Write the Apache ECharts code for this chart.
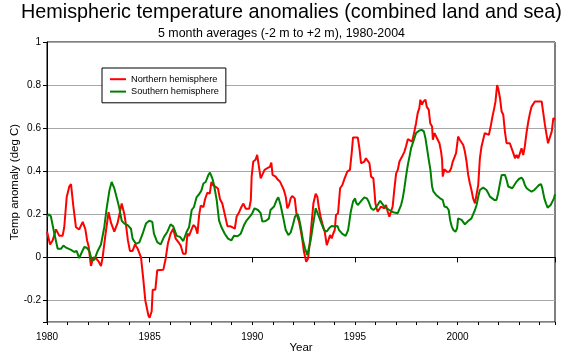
<!DOCTYPE html>
<html>
<head>
<meta charset="utf-8">
<script src="https://cdn.jsdelivr.net/npm/echarts@6/dist/echarts.min.js"></script>
<style>html,body{margin:0;padding:0;background:#fff}#c{width:575px;height:359px}</style>
</head>
<body>
<div id="c"></div>
<script>
const titleText = 'Hemispheric temperature anomalies (combined land and sea)';
const subtitleText = '5 month averages (-2 m to +2 m), 1980-2004';
const seriesNames = ['Northern hemisphere', 'Southern hemisphere'];

const northern = [
[1980.00,0.12],[1980.15,0.06],[1980.28,0.08],[1980.44,0.13],[1980.60,0.10],[1980.76,0.10],[1980.84,0.14],[1980.96,0.28],
[1981.09,0.33],[1981.17,0.34],[1981.28,0.24],[1981.41,0.14],[1981.57,0.13],[1981.74,0.165],[1981.87,0.13],[1981.95,0.08],
[1982.03,0.05],[1982.14,-0.04],[1982.26,0.00],[1982.39,-0.005],[1982.52,-0.02],[1982.63,-0.04],[1982.71,0.00],[1982.84,0.10],
[1983.00,0.21],[1983.12,0.16],[1983.28,0.12],[1983.44,0.16],[1983.64,0.25],[1983.77,0.20],[1983.85,0.15],[1983.94,0.08],
[1984.04,0.03],[1984.17,0.03],[1984.29,0.06],[1984.42,0.04],[1984.58,0.00],[1984.69,-0.10],[1984.79,-0.20],[1984.94,-0.27],
[1985.00,-0.28],[1985.10,-0.25],[1985.15,-0.15],[1985.28,-0.15],[1985.37,-0.06],[1985.67,-0.057],[1985.78,-0.006],[1985.89,0.064],
[1986.02,0.11],[1986.15,0.133],[1986.27,0.087],[1986.43,0.067],[1986.51,0.056],[1986.63,0.017],[1986.76,0.017],[1986.84,0.11],
[1986.92,0.10],[1987.00,0.12],[1987.13,0.15],[1987.24,0.14],[1987.33,0.11],[1987.41,0.195],[1987.49,0.24],[1987.62,0.234],
[1987.70,0.27],[1987.81,0.30],[1987.93,0.296],[1988.01,0.35],[1988.09,0.335],[1988.22,0.327],[1988.33,0.32],[1988.43,0.27],
[1988.54,0.25],[1988.66,0.20],[1988.79,0.145],[1988.92,0.145],[1989.03,0.14],[1989.15,0.133],[1989.24,0.19],[1989.36,0.21],
[1989.47,0.234],[1989.57,0.25],[1989.68,0.226],[1989.85,0.226],[1989.93,0.265],[1989.97,0.375],[1990.05,0.445],[1990.16,0.453],
[1990.24,0.476],[1990.33,0.468],[1990.41,0.367],[1990.49,0.383],[1990.60,0.406],[1990.73,0.414],[1990.86,0.42],[1990.93,0.44],
[1990.99,0.383],[1991.14,0.375],[1991.25,0.36],[1991.35,0.352],[1991.46,0.33],[1991.54,0.313],[1991.63,0.282],[1991.71,0.228],
[1991.79,0.243],[1991.87,0.274],[1991.95,0.285],[1992.07,0.274],[1992.15,0.205],[1992.28,0.166],[1992.36,0.127],[1992.44,0.081],
[1992.52,0.026],[1992.63,-0.02],[1992.72,-0.005],[1992.80,0.065],[1992.89,0.158],[1992.98,0.251],[1993.09,0.295],[1993.17,0.282],
[1993.25,0.228],[1993.33,0.189],[1993.41,0.158],[1993.53,0.12],[1993.63,0.057],[1993.69,0.073],[1993.79,0.104],[1993.87,0.088],
[1993.95,0.112],[1994.02,0.127],[1994.08,0.197],[1994.18,0.205],[1994.28,0.321],[1994.39,0.336],[1994.50,0.367],[1994.63,0.398],
[1994.76,0.406],[1994.85,0.49],[1994.91,0.557],[1995.14,0.557],[1995.19,0.553],[1995.22,0.507],[1995.30,0.437],[1995.38,0.433],
[1995.46,0.445],[1995.54,0.46],[1995.62,0.453],[1995.71,0.437],[1995.79,0.375],[1995.90,0.367],[1995.95,0.313],[1996.00,0.251],
[1996.06,0.228],[1996.11,0.212],[1996.19,0.22],[1996.27,0.236],[1996.36,0.228],[1996.44,0.228],[1996.52,0.243],[1996.60,0.212],
[1996.68,0.189],[1996.76,0.197],[1996.84,0.236],[1996.92,0.313],[1997.01,0.39],[1997.09,0.406],[1997.17,0.445],[1997.30,0.468],
[1997.41,0.49],[1997.49,0.515],[1997.58,0.549],[1997.66,0.546],[1997.79,0.538],[1997.90,0.585],[1997.98,0.623],[1998.06,0.67],
[1998.14,0.693],[1998.19,0.732],[1998.27,0.709],[1998.34,0.724],[1998.44,0.732],[1998.50,0.70],[1998.60,0.685],[1998.67,0.623],
[1998.76,0.608],[1998.80,0.546],[1998.88,0.577],[1998.96,0.561],[1999.04,0.553],[1999.12,0.53],[1999.20,0.491],[1999.25,0.453],
[1999.28,0.375],[1999.36,0.409],[1999.48,0.398],[1999.61,0.398],[1999.69,0.414],[1999.77,0.445],[1999.85,0.453],[1999.93,0.484],
[2000.03,0.561],[2000.11,0.546],[2000.20,0.538],[2000.28,0.522],[2000.36,0.491],[2000.44,0.445],[2000.52,0.383],[2000.60,0.344],
[2000.68,0.313],[2000.76,0.274],[2000.85,0.251],[2000.93,0.259],[2001.01,0.336],[2001.09,0.46],[2001.17,0.515],[2001.25,0.546],
[2001.33,0.577],[2001.41,0.569],[2001.53,0.569],[2001.63,0.615],[2001.69,0.647],[2001.79,0.693],[2001.85,0.724],[2001.93,0.80],
[2001.98,0.785],[2002.07,0.74],[2002.15,0.677],[2002.23,0.662],[2002.31,0.584],[2002.39,0.53],[2002.47,0.538],[2002.55,0.53],
[2002.63,0.522],[2002.72,0.484],[2002.80,0.46],[2002.88,0.475],[2002.96,0.46],[2003.04,0.468],[2003.12,0.507],[2003.20,0.475],
[2003.28,0.515],[2003.37,0.584],[2003.45,0.631],[2003.53,0.67],[2003.61,0.70],[2003.69,0.709],[2003.77,0.724],[2003.85,0.716],
[2003.93,0.724],[2004.02,0.716],[2004.10,0.724],[2004.18,0.67],[2004.26,0.615],[2004.34,0.569],[2004.41,0.53],[2004.50,0.538],
[2004.59,0.584],[2004.67,0.647],[2004.75,0.639]
];

const southern = [
[1980.00,0.19],[1980.11,0.20],[1980.19,0.19],[1980.36,0.11],[1980.52,0.04],[1980.68,0.04],[1980.80,0.055],[1980.93,0.045],
[1981.17,0.035],[1981.33,0.025],[1981.44,0.03],[1981.57,-0.003],[1981.70,0.025],[1981.82,0.048],[1981.93,0.045],[1982.06,0.03],
[1982.19,-0.015],[1982.31,-0.01],[1982.47,0.03],[1982.63,0.06],[1982.79,0.14],[1982.91,0.23],[1983.04,0.31],[1983.15,0.35],
[1983.28,0.32],[1983.39,0.28],[1983.52,0.23],[1983.64,0.17],[1983.77,0.157],[1983.93,0.15],[1984.09,0.133],[1984.17,0.087],
[1984.33,0.063],[1984.50,0.07],[1984.66,0.11],[1984.82,0.157],[1984.98,0.17],[1985.13,0.165],[1985.21,0.11],[1985.37,0.071],
[1985.54,0.06],[1985.70,0.095],[1985.86,0.118],[1986.02,0.153],[1986.15,0.144],[1986.32,0.10],[1986.48,0.095],[1986.64,0.076],
[1986.80,0.118],[1986.92,0.14],[1987.05,0.22],[1987.16,0.234],[1987.29,0.28],[1987.41,0.293],[1987.52,0.31],[1987.62,0.343],
[1987.73,0.35],[1987.85,0.38],[1987.94,0.394],[1988.06,0.366],[1988.14,0.335],[1988.27,0.265],[1988.38,0.172],[1988.50,0.14],
[1988.66,0.11],[1988.82,0.087],[1988.98,0.079],[1989.11,0.10],[1989.28,0.098],[1989.44,0.11],[1989.60,0.15],[1989.73,0.172],
[1989.93,0.195],[1990.00,0.205],[1990.11,0.228],[1990.28,0.22],[1990.41,0.205],[1990.49,0.166],[1990.65,0.169],[1990.81,0.18],
[1990.89,0.22],[1991.06,0.236],[1991.19,0.267],[1991.27,0.279],[1991.38,0.243],[1991.50,0.189],[1991.63,0.127],[1991.76,0.104],
[1991.87,0.115],[1991.98,0.15],[1992.08,0.189],[1992.20,0.202],[1992.28,0.181],[1992.36,0.143],[1992.47,0.081],[1992.57,0.042],
[1992.68,0.011],[1992.76,0.019],[1992.85,0.081],[1992.96,0.15],[1993.09,0.228],[1993.17,0.22],[1993.25,0.189],[1993.37,0.158],
[1993.50,0.127],[1993.63,0.12],[1993.74,0.135],[1993.87,0.146],[1994.02,0.143],[1994.15,0.146],[1994.23,0.127],[1994.39,0.109],
[1994.55,0.10],[1994.67,0.127],[1994.80,0.212],[1994.91,0.259],[1995.01,0.274],[1995.06,0.254],[1995.14,0.243],[1995.22,0.248],
[1995.35,0.267],[1995.46,0.279],[1995.58,0.274],[1995.67,0.259],[1995.79,0.228],[1995.90,0.22],[1996.00,0.228],[1996.11,0.243],
[1996.23,0.263],[1996.32,0.251],[1996.44,0.236],[1996.55,0.228],[1996.68,0.22],[1996.81,0.212],[1996.92,0.208],[1997.09,0.205],
[1997.17,0.212],[1997.25,0.243],[1997.33,0.274],[1997.41,0.32],[1997.49,0.375],[1997.58,0.43],[1997.66,0.468],[1997.74,0.507],
[1997.82,0.53],[1997.90,0.553],[1997.98,0.577],[1998.06,0.585],[1998.14,0.589],[1998.26,0.592],[1998.36,0.585],[1998.44,0.553],
[1998.50,0.515],[1998.60,0.453],[1998.68,0.406],[1998.76,0.329],[1998.83,0.305],[1998.96,0.29],[1999.05,0.282],[1999.15,0.274],
[1999.28,0.267],[1999.36,0.236],[1999.48,0.233],[1999.57,0.22],[1999.64,0.174],[1999.72,0.143],[1999.80,0.127],[1999.90,0.119],
[1999.98,0.135],[2000.03,0.181],[2000.11,0.181],[2000.20,0.174],[2000.28,0.166],[2000.36,0.153],[2000.44,0.158],[2000.52,0.169],
[2000.60,0.174],[2000.68,0.181],[2000.76,0.20],[2000.85,0.22],[2000.93,0.243],[2001.01,0.282],[2001.09,0.313],[2001.17,0.321],
[2001.25,0.324],[2001.33,0.321],[2001.41,0.313],[2001.50,0.298],[2001.58,0.282],[2001.66,0.274],[2001.79,0.267],[2001.90,0.267],
[2001.98,0.298],[2002.07,0.344],[2002.15,0.383],[2002.23,0.383],[2002.31,0.383],[2002.39,0.36],[2002.47,0.329],[2002.55,0.321],
[2002.67,0.321],[2002.76,0.329],[2002.88,0.352],[2002.99,0.364],[2003.12,0.37],[2003.20,0.36],[2003.28,0.336],[2003.37,0.321],
[2003.48,0.313],[2003.61,0.305],[2003.74,0.313],[2003.85,0.324],[2003.97,0.336],[2004.07,0.34],[2004.13,0.321],[2004.23,0.274],
[2004.31,0.251],[2004.39,0.231],[2004.46,0.223],[2004.54,0.243],[2004.62,0.259],[2004.70,0.274],[2004.75,0.293]
];

const xMin = 1980, xMax = 2004.75;
const yMin = -0.3, yMax = 1;

const font = '"Liberation Sans", Arial, sans-serif';
const chart = echarts.init(document.getElementById('c'), null, {renderer: 'canvas'});
chart.setOption({
  animation: false,
  backgroundColor: '#fff',
  title: [{
    text: titleText,
    left: 21,
    top: 3,
    padding: 0,
    textStyle: {fontFamily: font, fontSize: 19.8, fontWeight: 'normal', color: '#000'}
  }, {
    text: subtitleText,
    left: 158,
    top: 28,
    padding: 0,
    textStyle: {fontFamily: font, fontSize: 12.4, fontWeight: 'normal', color: '#000'}
  }],
  legend: {
    data: seriesNames,
    orient: 'vertical',
    left: 102,
    top: 68,
    padding: [5, 7, 5, 8],
    itemGap: 0,
    itemWidth: 16,
    itemHeight: 2,
    icon: 'rect',
    borderColor: '#000',
    borderWidth: 1,
    borderRadius: 0,
    backgroundColor: '#fff',
    textStyle: {fontFamily: font, fontSize: 9.2, color: '#000', lineHeight: 12.4}
  },
  grid: {
    left: 47, right: 20, top: 42, bottom: 37,
    outerBoundsMode: 'none',
    show: true, borderColor: '#000', borderWidth: 1, backgroundColor: 'transparent',
    containLabel: false
  },
  xAxis: [{
    type: 'value', min: xMin, max: xMax, interval: 5,
    name: 'Year', nameLocation: 'middle', nameGap: 20, nameMoveOverlap: false,
    nameTextStyle: {fontFamily: font, fontSize: 11.5, color: '#000'},
    axisLine: {show: true, lineStyle: {color: '#000', width: 1}},
    axisTick: {show: true, length: 5, lineStyle: {color: '#000'}},
    axisLabel: {
      fontFamily: font, fontSize: 10, color: '#000', margin: 10,
      formatter: v => (Math.abs(v % 5) < 1e-6 ? String(v) : '')
    },
    splitLine: {show: false}
  }, {
    type: 'value', min: xMin, max: xMax, interval: 1, position: 'bottom',
    axisLine: {show: false},
    axisTick: {show: true, length: 3, lineStyle: {color: '#000'}},
    axisLabel: {show: false},
    splitLine: {show: false}
  }],
  yAxis: {
    type: 'value', min: yMin, max: yMax, minInterval: 0.2, maxInterval: 0.2,
    name: 'Temp anomaly (deg C)', nameLocation: 'middle', nameGap: 26, nameMoveOverlap: false,
    nameTextStyle: {fontFamily: font, fontSize: 11.5, color: '#000'},
    axisLine: {show: true, lineStyle: {color: '#000', width: 1}},
    axisTick: {show: true, length: 4, lineStyle: {color: '#000'}},
    axisLabel: {
      fontFamily: font, fontSize: 10, color: '#000', margin: 6,
      formatter: v => {
        if (Math.abs(v * 5 - Math.round(v * 5)) > 1e-6) return '';
        const r = Math.round(v * 10) / 10;
        return r === 0 ? '0' : (Number.isInteger(r) ? String(r) : r.toFixed(1));
      }
    },
    splitLine: {show: true, lineStyle: {color: '#a8a8a8', width: 1}}
  },
  series: [{
    name: seriesNames[0], type: 'line', data: northern, showSymbol: false, symbol: 'none',
    lineStyle: {color: '#ff0000', width: 2}, itemStyle: {color: '#ff0000'}, xAxisIndex: 0
  }, {
    name: seriesNames[1], type: 'line', data: southern, showSymbol: false, symbol: 'none',
    lineStyle: {color: '#008000', width: 2}, itemStyle: {color: '#008000'}, xAxisIndex: 0
  }]
});
</script>
</body>
</html>
